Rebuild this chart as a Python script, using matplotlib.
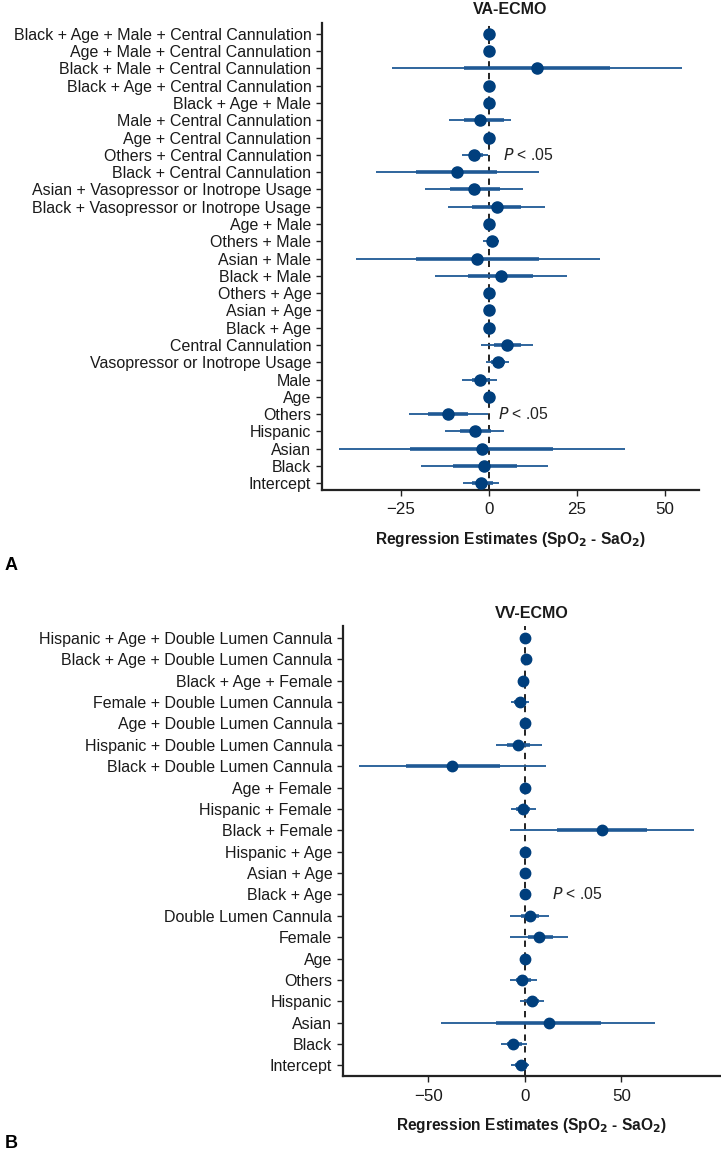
import matplotlib
matplotlib.use("Agg")
import matplotlib.pyplot as plt

plt.rcParams['font.family'] = ['Liberation Sans', 'DejaVu Sans']

# ---------------- Panel A: VA-ECMO ----------------
va_terms = ["Black + Age + Male + Central Cannulation", "Age + Male + Central Cannulation",
            "Black + Male + Central Cannulation", "Black + Age + Central Cannulation",
            "Black + Age + Male", "Male + Central Cannulation", "Age + Central Cannulation",
            "Others + Central Cannulation", "Black + Central Cannulation",
            "Asian + Vasopressor or Inotrope Usage", "Black + Vasopressor or Inotrope Usage",
            "Age + Male", "Others + Male", "Asian + Male", "Black + Male", "Others + Age",
            "Asian + Age", "Black + Age", "Central Cannulation", "Vasopressor or Inotrope Usage",
            "Male", "Age", "Others", "Hispanic", "Asian", "Black", "Intercept"]
va_est = [0.0, 0.0, 13.8, 0.0, 0.0, -2.6, 0.0, -4.1, -9.1, -4.1, 2.4, 0.0, 0.85, -3.2, 3.4,
          0.2, 0.0, 0.0, 5.3, 2.6, -2.6, 0.0, -11.5, -3.8, -2.0, -1.3, -2.1]
va_lo95 = [0.0, 0.0, -27.5, 0.0, 0.0, -11.4, 0.0, -7.7, -32.1, -18.1, -11.6, 0.0, -1.5, -37.8, -15.2,
           0.0, 0.0, 0.0, -2.1, -0.85, -7.5, 0.0, -22.6, -12.4, -42.5, -19.1, -7.2]
va_hi95 = [0.0, 0.0, 54.8, 0.0, 0.0, 6.25, 0.0, -0.1, 14.3, 9.8, 16.0, 0.0, 2.9, 31.6, 22.3,
           0.4, 0.0, 0.0, 12.7, 5.9, 2.4, 0.0, -0.1, 4.4, 38.8, 16.9, 3.0]
va_lo_in = [0.0, 0.0, -7.0, 0.0, 0.0, -7.0, 0.0, -5.6, -20.5, -11.0, -4.7, 0.0, -0.6, -20.5, -6.0,
            0.0, 0.0, 0.0, 1.5, 0.7, -4.8, 0.0, -17.1, -8.1, -22.2, -10.2, -4.8]
va_hi_in = [0.0, 0.0, 34.3, 0.0, 0.0, 4.4, 0.0, -1.5, 2.3, 3.2, 9.1, 0.0, 2.3, 14.3, 12.7,
            0.3, 0.0, 0.0, 9.1, 4.6, 0.4, 0.0, -5.8, 0.6, 18.2, 8.0, 1.3]
va_sig_terms = ["Others + Central Cannulation", "Others"]
va_sig_x = [4.2, 2.6]
va_xticks = [-25, 0, 25, 50]
va_xlim = (-47.4, 59.7)

# ---------------- Panel B: VV-ECMO ----------------
vv_terms = ["Hispanic + Age + Double Lumen Cannula", "Black + Age + Double Lumen Cannula",
            "Black + Age + Female", "Female + Double Lumen Cannula", "Age + Double Lumen Cannula",
            "Hispanic + Double Lumen Cannula", "Black + Double Lumen Cannula", "Age + Female",
            "Hispanic + Female", "Black + Female", "Hispanic + Age", "Asian + Age", "Black + Age",
            "Double Lumen Cannula", "Female", "Age", "Others", "Hispanic", "Asian", "Black",
            "Intercept"]
vv_est = [0.2, 0.6, -0.7, -2.4, 0.0, -3.3, -37.5, 0.0, -1.0, 39.9, 0.0, 0.0, 0.0, 2.6, 7.3,
          0.0, -1.2, 3.5, 12.3, -5.9, -2.1]
vv_lo95 = [0.0, 0.0, -1.2, -6.9, 0.0, -14.9, -86.1, 0.0, -7.3, -7.6, 0.0, 0.0, 0.0, -7.8, -7.8,
           0.0, -7.6, -2.4, -43.2, -12.5, -7.1]
vv_hi95 = [0.4, 1.0, -0.2, 2.3, 0.0, 8.7, 10.9, 0.0, 5.6, 87.5, 0.0, 0.0, 0.0, 12.8, 22.2,
           0.0, 6.1, 10.1, 67.4, 1.0, 2.4]
vv_lo_in = [0.0, 0.3, -1.0, -5.5, 0.0, -9.0, -61.5, 0.0, -4.7, 16.7, 0.0, 0.0, 0.0, -2.1, 1.4,
            0.0, -4.7, 0.5, -15.1, -9.3, -5.1]
vv_hi_in = [0.3, 0.9, -0.4, 0.5, 0.0, 2.8, -13.0, 0.0, 2.5, 63.5, 0.0, 0.0, 0.0, 7.5, 14.6,
            0.0, 3.1, 7.5, 39.6, -1.7, 1.4]
vv_sig_terms = ["Black + Age"]
vv_sig_x = [13.9]
vv_xticks = [-50, 0, 50]
vv_xlim = (-94.4, 101.7)

PT_COLOR = '#003f7d'
LINE_COLOR = '#1f5995'

fig = plt.figure(figsize=(7.21, 11.59), dpi=100)


def forest(ax, terms, est, lo95, hi95, lo_in, hi_in, sig_terms, sig_x, xticks, xlim,
           title, pad_top, pad_bot, msize):
    n = len(terms)
    ypos = list(range(n - 1, -1, -1))
    ax.axvline(0, color='#111111', linestyle=(0, (3.5, 3.0)), linewidth=1.3, zorder=1)
    ax.hlines(ypos, lo95, hi95, color=LINE_COLOR, linewidth=1.3, zorder=2)
    ax.hlines(ypos, lo_in, hi_in, color=LINE_COLOR, linewidth=2.6, zorder=3)
    ax.plot(est, ypos, 'o', color=PT_COLOR, markersize=msize, zorder=4)
    for t, sx in zip(sig_terms, sig_x):
        yy = ypos[terms.index(t)]
        ax.text(sx, yy, r'$\mathit{P}$' + ' < .05', fontsize=11.3, va='center', ha='left',
                color='#222222')
    ax.set_yticks(ypos)
    ax.set_yticklabels(terms)
    ax.set_ylim(-pad_bot, n - 1 + pad_top)
    ax.set_xlim(*xlim)
    ax.set_xticks(xticks)
    ax.set_xticklabels([str(v).replace('-', '\u2212') for v in xticks])
    for s in ['top', 'right']:
        ax.spines[s].set_visible(False)
    for s in ['left', 'bottom']:
        ax.spines[s].set_linewidth(1.6)
        ax.spines[s].set_color('#222222')
    ax.tick_params(axis='both', direction='out', length=4, width=1.0, color='#222222',
                   labelsize=11.5, labelcolor='#1a1a1a', pad=3.5)
    ax.tick_params(axis='x', labelsize=12.2, pad=5)
    ax.set_title(title, fontsize=11.5, fontweight='bold', pad=6, color='#1a1a1a')
    ax.set_xlabel('Regression Estimates (SpO$_\\mathbf{2}$ - SaO$_\\mathbf{2}$)', fontsize=11.2,
                  fontweight='bold', labelpad=9, color='#1a1a1a')


ax1 = fig.add_axes([0.4462, 0.5773, 0.5233, 0.4031])
forest(ax1, va_terms, va_est, va_lo95, va_hi95, va_lo_in, va_hi_in, va_sig_terms, va_sig_x,
       va_xticks, va_xlim, 'VA-ECMO', 0.64, 0.38, 8)

ax2 = fig.add_axes([0.4753, 0.0713, 0.5247, 0.3885])
forest(ax2, vv_terms, vv_est, vv_lo95, vv_hi95, vv_lo_in, vv_hi_in, vv_sig_terms, vv_sig_x,
       vv_xticks, vv_xlim, 'VV-ECMO', 0.55, 0.51, 7.5)

fig.text(0.006, 1 - 565 / 1159, 'A', fontsize=13, fontweight='bold', va='center', ha='left')
fig.text(0.006, 1 - 1143 / 1159, 'B', fontsize=13, fontweight='bold', va='center', ha='left')

fig.savefig('out.png', dpi=100)
